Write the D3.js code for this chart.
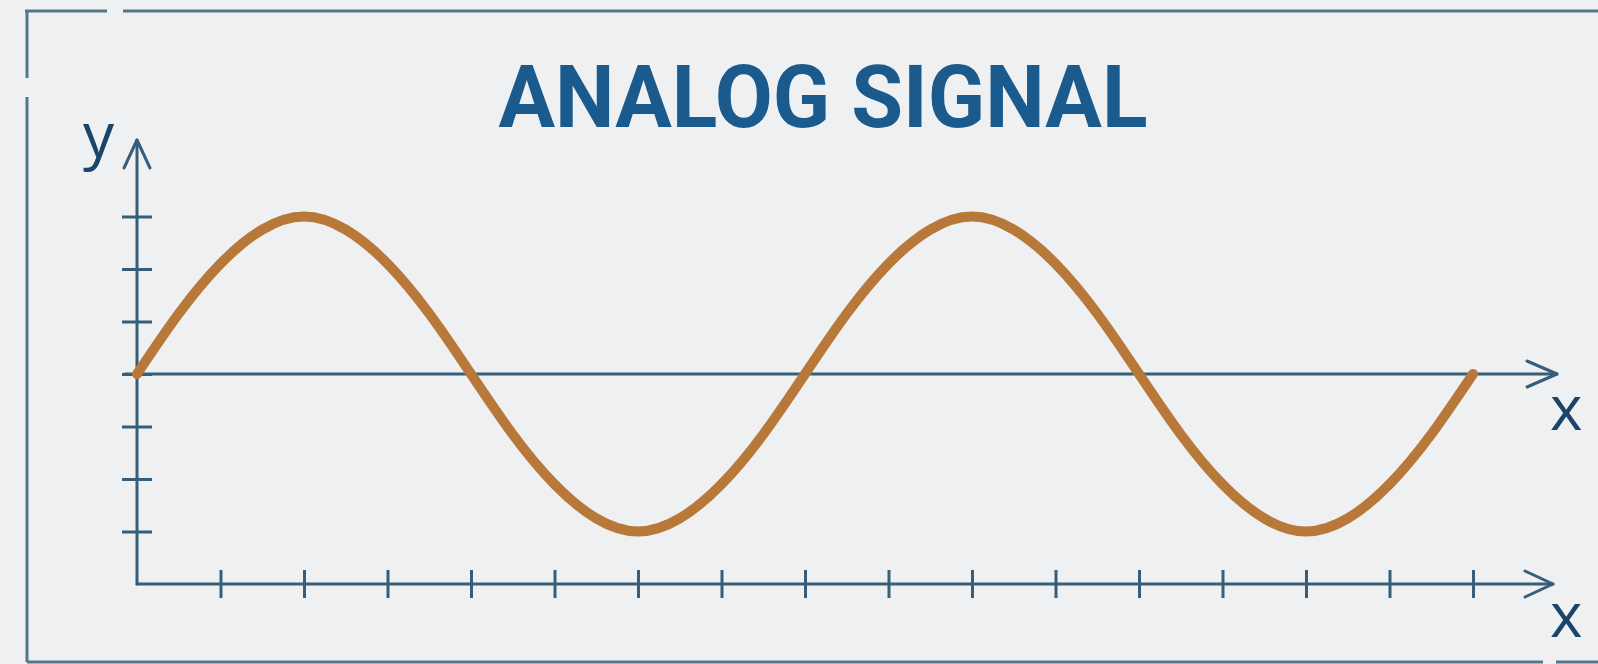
<!DOCTYPE html>
<html>
<head>
<meta charset="utf-8">
<script src="https://cdn.jsdelivr.net/npm/d3@7"></script>
<style>
  html, body { margin: 0; padding: 0; background: #eff0f2; }
  svg { display: block; }
</style>
</head>
<body>
<div id="chart"></div>
<script>
const W = 1598, H = 664;

// values, one per half tick
const xTicks = [1, 2, 3, 4, 5, 6, 7, 8, 9, 10, 11, 12, 13, 14, 15, 16];
const yTicks = [-3, -2, -1, 0, 1, 2, 3];
const signalX = [0, 0.5, 1, 1.5, 2, 2.5, 3, 3.5, 4, 4.5, 5, 5.5, 6, 6.5, 7, 7.5, 8,
  8.5, 9, 9.5, 10, 10.5, 11, 11.5, 12, 12.5, 13, 13.5, 14, 14.5, 15, 15.5, 16];
const signalY = [0, 1.15, 2.1, 2.75, 3, 2.75, 2.1, 1.15, 0, -1.15, -2.1, -2.75, -3, -2.75, -2.1, -1.15, 0,
  1.15, 2.1, 2.75, 3, 2.75, 2.1, 1.15, 0, -1.15, -2.1, -2.75, -3, -2.75, -2.1, -1.15, 0];

const axisColor = '#365e7a';
const frameColor = '#52768a';

const svg = d3.select('#chart').append('svg')
  .attr('width', W).attr('height', H);

svg.append('rect').attr('width', W).attr('height', H).attr('fill', '#eff0f2');

// frame with small gaps
const frame = svg.append('g').attr('stroke', frameColor).attr('stroke-width', 3).attr('fill', 'none');
[[25, 11, 107, 11], [123, 11, 1598, 11], [27, 11, 27, 78], [27, 97, 27, 662],
 [27, 662, 1543, 662], [1556, 662, 1598, 662]].forEach(l => {
  frame.append('line').attr('x1', l[0]).attr('y1', l[1]).attr('x2', l[2]).attr('y2', l[3]);
});

const x = d3.scaleLinear().domain([0, 16]).range([137, 1473]);
const y = d3.scaleLinear().domain([-4, 3]).range([584, 216.5]);

// title
svg.append('text')
  .attr('x', 823).attr('y', 127)
  .attr('text-anchor', 'middle')
  .attr('font-family', 'Roboto, "Liberation Sans", sans-serif')
  .attr('font-weight', 700)
  .attr('font-size', 88)
  .attr('textLength', 649)
  .attr('lengthAdjust', 'spacingAndGlyphs')
  .attr('fill', '#1b5a8c')
  .text('ANALOG SIGNAL');

const g = svg.append('g');

// y axis ticks
const yAxis = g.append('g').attr('transform', `translate(${x(0)},0)`)
  .call(d3.axisLeft(y).tickValues(yTicks).tickFormat(''));
yAxis.select('.domain').remove();
yAxis.selectAll('.tick line').attr('x1', -15).attr('x2', 15)
  .attr('stroke', axisColor).attr('stroke-width', 3);

// x axis ticks
const xAxis = g.append('g').attr('transform', `translate(0,${y(-4)})`)
  .call(d3.axisBottom(x).tickValues(xTicks).tickFormat(''));
xAxis.select('.domain').remove();
xAxis.selectAll('.tick line').attr('y1', -14).attr('y2', 14)
  .attr('stroke', axisColor).attr('stroke-width', 3);

const axes = g.append('g').attr('stroke', axisColor).attr('stroke-width', 3)
  .attr('fill', 'none').attr('stroke-linecap', 'round').attr('stroke-linejoin', 'round');

// vertical axis + arrow
axes.append('path').attr('d', `M${x(0)},${y(-4)}V140`);
axes.append('path').attr('d', `M${x(0) - 13},168L${x(0)},140L${x(0) + 13},168`);

// bottom horizontal axis + arrow
axes.append('path').attr('d', `M${x(0)},${y(-4)}H1553`);
axes.append('path').attr('d', `M1525,${y(-4) - 13}L1553,${y(-4)}L1525,${y(-4) + 13}`);

// zero line + arrow
axes.append('path').attr('d', `M${x(0) - 12},${y(0)}H1557`);
axes.append('path').attr('d', `M1527,${y(0) - 13}L1557,${y(0)}L1527,${y(0) + 13}`);

// signal
const pts = signalX.map((d, i) => [d, signalY[i]]);
g.append('path')
  .datum(pts)
  .attr('fill', 'none')
  .attr('stroke', '#b8783a')
  .attr('stroke-width', 10)
  .attr('stroke-linecap', 'round')
  .attr('d', d3.line().x(d => x(d[0])).y(d => y(d[1])).curve(d3.curveNatural));

// axis letters
const lab = svg.append('g')
  .attr('font-family', '"Open Sans", sans-serif')
  .attr('font-weight', 500)
  .attr('font-size', 62)
  .attr('fill', '#1a4568');
lab.append('text').attr('x', 83).attr('y', 157).text('y');
lab.append('text').attr('x', 1550).attr('y', 430).text('x');
lab.append('text').attr('x', 1550).attr('y', 637).text('x');
</script>
</body>
</html>
